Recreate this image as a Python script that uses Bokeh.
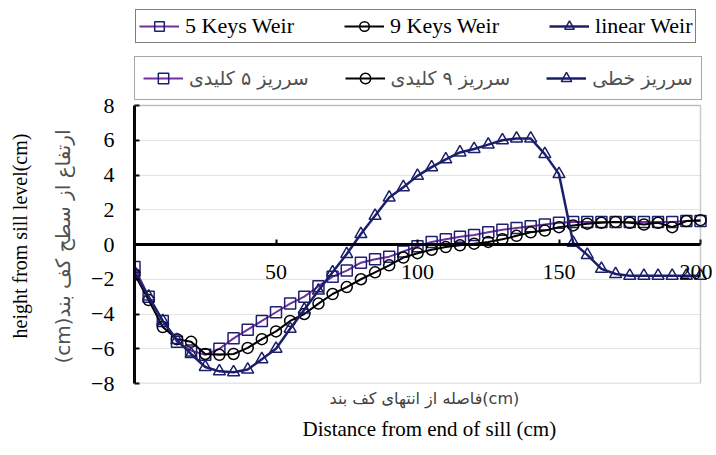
from bokeh.plotting import figure
from bokeh.models import (Range1d, FixedTicker, Legend, LegendItem, Title, ColumnDataSource,
                          BoxAnnotation)
from bokeh.embed import file_html
from bokeh.resources import INLINE

# ---- data ----
distance = [0, 5, 10, 15, 20, 25, 30, 35, 40, 45, 50, 55, 60, 65, 70, 75, 80, 85, 90, 95,
            100, 105, 110, 115, 120, 125, 130, 135, 140, 145, 150, 155, 160, 165, 170, 175,
            180, 185, 190, 195, 200]
five_keys = [-1.3, -3.0, -4.4, -5.6, -6.1, -6.35, -6.0, -5.4, -4.9, -4.4, -3.9, -3.4, -3.0,
             -2.4, -1.85, -1.5, -1.05, -0.85, -0.7, -0.4, -0.1, 0.15, 0.3, 0.45, 0.55, 0.7,
             0.85, 0.95, 1.05, 1.15, 1.25, 1.3, 1.3, 1.3, 1.3, 1.3, 1.3, 1.3, 1.3, 1.35, 1.35]
nine_keys = [-1.7, -3.2, -4.75, -5.45, -5.6, -6.3, -6.35, -6.3, -5.95, -5.45, -5.0, -4.4,
             -4.0, -3.4, -2.85, -2.45, -2.0, -1.6, -1.2, -0.75, -0.5, -0.3, -0.15, -0.05,
             0.05, 0.15, 0.3, 0.5, 0.7, 0.8, 1.0, 1.1, 1.2, 1.25, 1.3, 1.25, 1.15, 1.25, 1.0,
             1.35, 1.4]
linear = [-1.6, -3.0, -4.4, -5.5, -6.3, -7.05, -7.3, -7.35, -7.2, -6.6, -6.0, -4.85, -3.75,
          -2.65, -1.6, -0.55, 0.6, 1.65, 2.7, 3.3, 3.95, 4.45, 4.9, 5.3, 5.5, 5.75, 6.0, 6.1,
          6.1, 5.2, 4.05, 0.1, -0.6, -1.4, -1.7, -1.8, -1.8, -1.8, -1.8, -1.8, -1.8]
x_ticks = [50, 100, 150, 200]
y_ticks = [-8, -6, -4, -2, 0, 2, 4, 6, 8]
names_en = ["5 Keys Weir", "9 Keys Weir", "linear Weir"]
names_fa = ["سرریز ۵ کلیدی", "سرریز ۹ کلیدی", "سرریز خطی"]
x_title_fa = "فاصله از انتهای کف بند(cm)"
x_title_en = "Distance from end of sill (cm)"
y_title_fa = "(cm)ارتفاع از سطح کف بند"
y_title_en = "height from sill level(cm)"

X_MIN, X_MAX = 0, 200
Y_MIN, Y_MAX = -8, 8

src = ColumnDataSource(dict(x=distance, a=five_keys, b=nine_keys, c=linear))

SERIF = "Liberation Serif"
FA_FONT = "DejaVu Sans"

# layout (pixels): plot box spans x 134..700 and y 105..383; legends sit above it,
# and a little room is left right of the box for the last tick label
W, H = 712, 447
BOX_LEFT, BOX_RIGHT = 134, 700
BOX_TOP, BOX_BOTTOM = 105, 383
y_extra = (Y_MAX - Y_MIN) * BOX_TOP / (BOX_BOTTOM - BOX_TOP)
x_extra = (X_MAX - X_MIN) * (W - BOX_RIGHT) / (BOX_RIGHT - BOX_LEFT)

p = figure(width=W, height=H, x_range=Range1d(X_MIN, X_MAX + x_extra),
           y_range=Range1d(Y_MIN, Y_MAX + y_extra),
           output_backend="svg", toolbar_location=None,
           min_border_left=BOX_LEFT, min_border_right=0, min_border_top=0,
           min_border_bottom=H - BOX_BOTTOM)
p.background_fill_color = "white"
p.border_fill_color = "white"
p.outline_line_color = None

# grid
p.xgrid.grid_line_color = None
p.ygrid.grid_line_color = "#E4E4E4"
p.ygrid.grid_line_width = 1

# mask the grid outside the plot box, then the plot box itself
p.add_layout(BoxAnnotation(left=X_MAX, fill_color="white", fill_alpha=1, line_color=None,
                           level="underlay"))
p.add_layout(BoxAnnotation(left=X_MIN, right=X_MAX, bottom=Y_MIN, top=Y_MAX,
                           fill_alpha=0, line_color="#555555", line_width=1.5))

# axes
p.xaxis.fixed_location = 0
p.xaxis.bounds = (X_MIN, X_MAX)
p.xaxis.ticker = FixedTicker(ticks=x_ticks)
p.xaxis.axis_line_width = 3
p.xaxis.axis_line_color = "black"
p.xaxis.major_tick_in = 5
p.xaxis.major_tick_out = 0
p.xaxis.major_tick_line_width = 2
p.xaxis.minor_tick_line_color = None
p.xaxis.major_label_text_font = SERIF
p.xaxis.major_label_text_font_size = "22px"
p.xaxis.major_label_text_color = "black"
p.xaxis.major_label_standoff = 20

p.yaxis.ticker = FixedTicker(ticks=y_ticks)
p.yaxis.bounds = (Y_MIN, Y_MAX)
p.yaxis.axis_line_width = 3
p.yaxis.axis_line_color = "black"
p.yaxis.major_tick_in = 5
p.yaxis.major_tick_out = 0
p.yaxis.major_tick_line_width = 2
p.yaxis.minor_tick_line_color = None
p.yaxis.major_label_text_font = SERIF
p.yaxis.major_label_text_font_size = "22px"
p.yaxis.major_label_text_color = "black"
p.yaxis.major_label_standoff = 20

# series
r5 = p.line("x", "a", source=src, line_color="#7030A0", line_width=2)
m5 = p.scatter("x", "a", source=src, marker="square", size=11, line_color="#1F1F70",
               fill_color=None, line_width=1.5)
r9 = p.line("x", "b", source=src, line_color="black", line_width=2)
m9 = p.scatter("x", "b", source=src, marker="circle", size=11, line_color="black",
               fill_color=None, line_width=1.5)
rl = p.line("x", "c", source=src, line_color="#1B1F6B", line_width=2.5)
ml = p.scatter("x", "c", source=src, marker="triangle", size=12, line_color="#1B1F6B",
               fill_color=None, line_width=1.5)

rends = [[r5, m5], [r9, m9], [rl, ml]]

leg_en = Legend(items=[LegendItem(label=n, renderers=r) for n, r in zip(names_en, rends)],
                orientation="horizontal", location=(1, BOX_BOTTOM - 43),
                label_text_font=SERIF, label_text_font_size="22px",
                label_text_color="black",
                glyph_width=40, glyph_height=24, label_standoff=6, spacing=50,
                padding=3, margin=0, border_line_color="black", border_line_width=1.5)
leg_fa = Legend(items=[LegendItem(label=n, renderers=r) for n, r in zip(names_fa, rends)],
                orientation="horizontal", location=(0, BOX_BOTTOM - 100),
                label_text_font=FA_FONT, label_text_font_size="19px",
                label_text_color="#505050",
                glyph_width=40, glyph_height=26, label_standoff=6, spacing=36,
                padding=8, margin=0, border_line_color="#505050", border_line_width=1.5)
p.add_layout(leg_en)
p.add_layout(leg_fa)

# axis titles
p.add_layout(Title(text=y_title_fa, align="left", text_font=FA_FONT, text_font_size="20px",
                   text_font_style="normal", text_color="#505050", standoff=28,
                   offset=20), "left")
p.add_layout(Title(text=y_title_en, align="left", text_font=SERIF, text_font_size="20px",
                   text_font_style="normal", text_color="black", standoff=8,
                   offset=45), "left")
p.add_layout(Title(text=x_title_fa, align="left", text_font=FA_FONT, text_font_size="16px",
                   text_font_style="normal", text_color="#404040", standoff=6,
                   offset=195), "below")
p.add_layout(Title(text=x_title_en, align="left", text_font=SERIF, text_font_size="21px",
                   text_font_style="normal", text_color="black", standoff=8,
                   offset=168), "below")

open("out.html", "w").write(file_html(p, INLINE))
